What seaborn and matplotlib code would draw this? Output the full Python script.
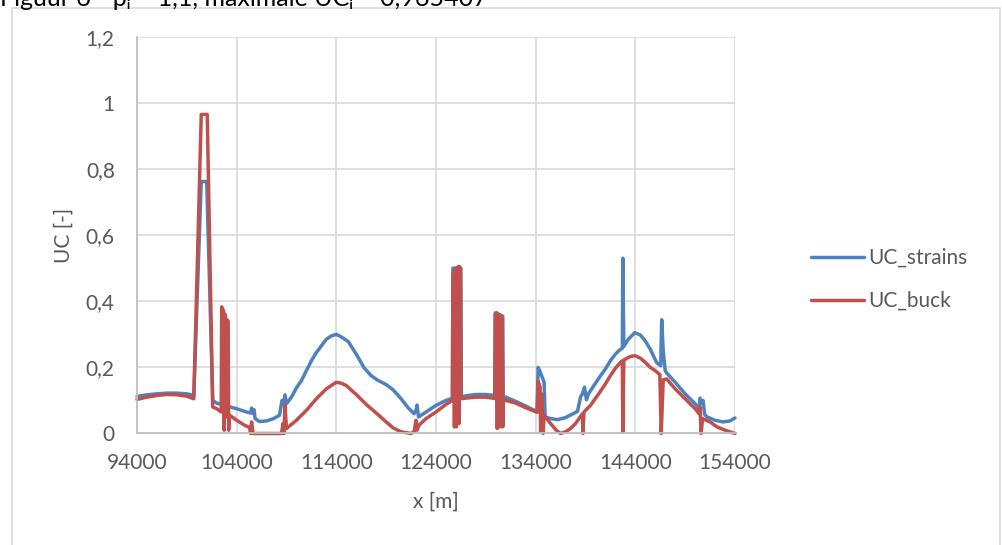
import numpy as np
import pandas as pd
import matplotlib
matplotlib.use("Agg")
import matplotlib.pyplot as plt
import seaborn as sns
from matplotlib.patches import Rectangle

# UC_strains
strains_x = [94000, 95000, 96000, 97000, 98000, 99000, 99700, 100450, 101000, 101600,
             102000, 102500, 103000, 104000, 105000, 105400, 105500, 105650, 105750, 105850,
             106300, 107000, 107700, 108300, 108550, 108700, 108850, 109000, 109500, 110000,
             110500, 111000, 111500, 112000, 112500, 113000, 113500, 114000, 114500, 115200,
             116000, 116800, 117500, 118100, 119000, 119700, 120500, 121200, 121800, 122000,
             122100, 122250, 123000, 124000, 125000, 125650, 125700, 126500, 126550, 127000,
             128000, 129000, 129900, 129950, 130700, 130750, 131000, 132000, 133000, 134150,
             134250, 134400, 134600, 134850, 134950, 135500, 136200, 137000, 137900, 138200,
             138500, 138700, 138900, 139100, 139300, 140400, 141000, 141500, 142000, 142450,
             142700, 142750, 142850, 143300, 143950, 144500, 145000, 145500, 146150, 146550,
             146650, 146800, 147000, 147150, 148000, 149000, 150000, 150400, 150500, 150700,
             150800, 150950, 151200, 152000, 152800, 153500, 154000]
strains_uc = [0.112, 0.117, 0.120, 0.122, 0.122, 0.120, 0.115, 0.762, 0.762, 0.100,
              0.092, 0.088, 0.083, 0.075, 0.065, 0.062, 0.077, 0.060, 0.072, 0.045,
              0.036, 0.038, 0.045, 0.055, 0.100, 0.090, 0.117, 0.090, 0.110, 0.138,
              0.160, 0.190, 0.220, 0.245, 0.265, 0.285, 0.295, 0.300, 0.292, 0.278,
              0.240, 0.198, 0.175, 0.162, 0.148, 0.132, 0.105, 0.078, 0.060, 0.070,
              0.086, 0.050, 0.065, 0.085, 0.100, 0.106, 0.500, 0.500, 0.110, 0.114,
              0.118, 0.118, 0.115, 0.365, 0.355, 0.112, 0.110, 0.097, 0.083, 0.066,
              0.200, 0.190, 0.175, 0.155, 0.050, 0.045, 0.042, 0.048, 0.062, 0.067,
              0.110, 0.120, 0.140, 0.102, 0.120, 0.170, 0.195, 0.220, 0.240, 0.253,
              0.258, 0.530, 0.263, 0.285, 0.305, 0.298, 0.280, 0.255, 0.214, 0.205,
              0.344, 0.250, 0.190, 0.183, 0.155, 0.120, 0.090, 0.075, 0.107, 0.090,
              0.100, 0.058, 0.050, 0.040, 0.035, 0.038, 0.047]

# UC_buck
buck_x = [94000, 95000, 96000, 97000, 98000, 99000, 99700, 100450, 101050, 101600,
          102000, 102450, 102500, 102700, 102750, 102850, 102950, 103000, 103150, 103200,
          103250, 104000, 104800, 105300, 105400, 105500, 105650, 106000, 108500, 108650,
          108750, 108850, 109000, 110000, 111000, 112000, 113000, 114000, 114500, 115000,
          116000, 117000, 118000, 119000, 119700, 120500, 121500, 121800, 122000, 122100,
          122300, 123000, 124000, 125000, 125650, 125700, 125800, 125850, 125900, 126000,
          126050, 126100, 126250, 126300, 126350, 126450, 126500, 127000, 128000, 129000,
          129900, 129950, 130100, 130150, 130200, 130350, 130400, 130450, 130650, 130700,
          130750, 131000, 132000, 133000, 134150, 134250, 134350, 134450, 134500, 134600,
          134750, 134850, 135500, 136000, 136500, 137000, 137500, 138000, 138700, 138750,
          138850, 139500, 140400, 141000, 141500, 142000, 142450, 142700, 142750, 142850,
          143300, 143650, 144000, 144500, 145000, 145500, 146000, 146460, 146600, 146800,
          147150, 148000, 149000, 150000, 150400, 150500, 150600, 150750, 151500, 152200,
          153000, 154000]
buck_uc = [0.103, 0.110, 0.115, 0.118, 0.117, 0.113, 0.105, 0.965, 0.965, 0.080,
           0.075, 0.065, 0.383, 0.370, 0.010, 0.360, 0.050, 0.345, 0.340, 0.010,
           0.056, 0.040, 0.025, 0.018, 0.000, 0.035, 0.000, 0.000, 0.000, 0.030,
           0.000, 0.086, 0.015, 0.040, 0.070, 0.105, 0.135, 0.155, 0.152, 0.145,
           0.118, 0.088, 0.062, 0.035, 0.017, 0.005, 0.000, 0.005, 0.040, 0.010,
           0.025, 0.045, 0.065, 0.088, 0.100, 0.480, 0.490, 0.020, 0.495, 0.500,
           0.020, 0.500, 0.505, 0.030, 0.505, 0.500, 0.105, 0.107, 0.110, 0.110,
           0.106, 0.360, 0.365, 0.015, 0.360, 0.360, 0.020, 0.355, 0.350, 0.020,
           0.104, 0.100, 0.092, 0.078, 0.064, 0.157, 0.150, 0.140, 0.005, 0.120,
           0.000, 0.055, 0.030, 0.012, 0.000, 0.005, 0.015, 0.030, 0.060, 0.000,
           0.065, 0.085, 0.123, 0.150, 0.175, 0.197, 0.213, 0.220, 0.005, 0.222,
           0.230, 0.234, 0.235, 0.228, 0.215, 0.200, 0.190, 0.178, 0.000, 0.162,
           0.165, 0.135, 0.105, 0.075, 0.060, 0.080, 0.000, 0.045, 0.035, 0.020,
           0.010, 0.000]

series_names = ["UC_strains", "UC_buck"]
x_ticks = [94000, 104000, 114000, 124000, 134000, 144000, 154000]
y_ticks = [0, 0.2, 0.4, 0.6, 0.8, 1.0, 1.2]
y_tick_labels = ["0", "0,2", "0,4", "0,6", "0,8", "1", "1,2"]

df = pd.concat([
    pd.DataFrame({"x": strains_x, "UC": strains_uc, "serie": series_names[0]}),
    pd.DataFrame({"x": buck_x, "UC": buck_uc, "serie": series_names[1]}),
], ignore_index=True)

sns.set_style("white")
plt.rcParams["font.family"] = ["Lato", "DejaVu Sans"]

txt_col = "#595959"
grid_col = "#d9d9d9"

fig = plt.figure(figsize=(10.02, 5.45), dpi=100)
ax = fig.add_axes([0.1367, 0.2046, 0.5968, 0.728])

sns.lineplot(data=df, x="x", y="UC", hue="serie", hue_order=series_names,
             palette=["#4f81bd", "#c0504d"], estimator=None, sort=False,
             linewidth=2.5, ax=ax, legend=False)
for ln in ax.lines:
    ln.set_solid_joinstyle("round")
    ln.set_solid_capstyle("round")
    ln.set_clip_on(False)

ax.set_xlim(94000, 154000)
ax.set_ylim(0, 1.2)
ax.set_xticks(x_ticks)
ax.set_xticklabels([str(t) for t in x_ticks])
ax.set_yticks(y_ticks)
ax.set_yticklabels(y_tick_labels)
ax.grid(True, color=grid_col, linewidth=1.2)
ax.set_axisbelow(True)
for s in ["top", "right"]:
    ax.spines[s].set_visible(False)
for s in ["left", "bottom"]:
    ax.spines[s].set_color("#bfbfbf")
    ax.spines[s].set_linewidth(1.3)
ax.tick_params(axis="both", length=0, labelsize=15, labelcolor=txt_col)
ax.tick_params(axis="x", pad=14)
ax.tick_params(axis="y", pad=16)

ax.set_xlabel("x [m]", fontsize=15, color=txt_col)
ax.set_ylabel("UC [-]", fontsize=15, color=txt_col)
ax.xaxis.label.set_va("center")
ax.yaxis.label.set_va("center")
ax.xaxis.set_label_coords(0.5, -0.173)
ax.yaxis.set_label_coords(-0.123, 0.498)

handles = ax.lines[:2]
fig.legend(handles, series_names, loc="center left", bbox_to_anchor=(0.809, 0.487),
           frameon=False, fontsize=15, handlelength=2.55, handletextpad=0.2,
           labelspacing=1.1, borderpad=0, borderaxespad=0, labelcolor=txt_col)

# chart border
fig.patches.append(Rectangle((12 / 1002, -0.05), 988 / 1002, 1.05 - 8 / 545,
                             transform=fig.transFigure, fill=False,
                             edgecolor=grid_col, linewidth=1.2))

fig.text(0.0, 1 - 6 / 545, "Figuur 6 - p\u1d62 = 1,1, maximale UC\u1d62 = 0,965407",
         fontsize=18, color="black", va="baseline", ha="left")

fig.savefig("out.png", dpi=100)
